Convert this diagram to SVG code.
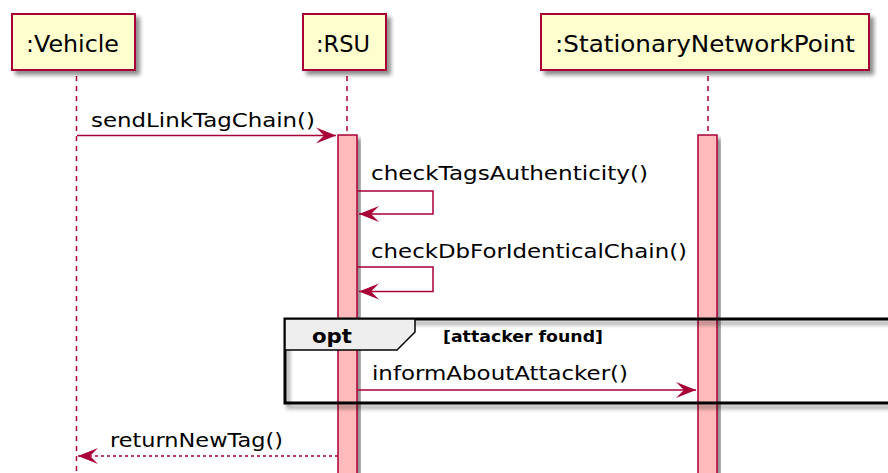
<svg xmlns="http://www.w3.org/2000/svg" width="888" height="473" viewBox="0 0 888 473">
<defs>
<filter id="sh" x="-10%" y="-10%" width="130%" height="140%">
<feGaussianBlur in="SourceAlpha" stdDeviation="2"/>
<feOffset dx="4" dy="4" result="b"/>
<feComponentTransfer><feFuncA type="linear" slope="0.45"/></feComponentTransfer>
<feMerge><feMergeNode/><feMergeNode in="SourceGraphic"/></feMerge>
</filter>
<filter id="shf" x="-5%" y="-10%" width="120%" height="130%">
<feGaussianBlur in="SourceAlpha" stdDeviation="2"/>
<feOffset dx="3" dy="4" result="b"/>
<feComponentTransfer><feFuncA type="linear" slope="0.45"/></feComponentTransfer>
<feMerge><feMergeNode/><feMergeNode in="SourceGraphic"/></feMerge>
</filter>
<marker id="ah" viewBox="-21 -9 22 18" refX="0" refY="0" markerWidth="22" markerHeight="18" markerUnits="userSpaceOnUse" orient="auto">
<path d="M0,0 L-20,-8 L-12,0 L-20,8 Z" fill="#A80036"/>
</marker>
</defs>
<style>
.box{fill:#FEFECE;stroke:#A80036;stroke-width:2}
.pt{font-family:"DejaVu Sans","Liberation Sans",sans-serif;font-size:23px;fill:#000}
.life{stroke:#A80036;stroke-width:1.5;stroke-dasharray:5,5;fill:none}
.act{fill:#FFBBBB;stroke:#A80036;stroke-width:1.5}
.msg{stroke:#A80036;stroke-width:1.5;fill:none}
.ret{stroke:#A80036;stroke-width:1.5;fill:none;stroke-dasharray:3,3}
.mt{font-family:"DejaVu Sans","Liberation Sans",sans-serif;font-size:20px;fill:#000}
.frame{fill:none;stroke:#000;stroke-width:3}
.tab{fill:#EEEEEE;stroke:#000;stroke-width:1.5}
.ft{font-family:"DejaVu Sans","Liberation Sans",sans-serif;font-weight:bold;fill:#000}
</style>
<g id="lifelines">
<line class="life" x1="76.5" y1="76" x2="76.5" y2="473"/>
<line class="life" x1="347" y1="76" x2="347" y2="473"/>
<line class="life" x1="708" y1="76" x2="708" y2="473"/>
</g>
<g id="vehicle">
<rect class="box" x="12" y="14" width="123" height="56" filter="url(#sh)"/>
<text class="pt" x="26" y="52" textLength="93" lengthAdjust="spacingAndGlyphs">:Vehicle</text>
</g>
<g id="rsu">
<rect class="box" x="303" y="14" width="83" height="56" filter="url(#sh)"/>
<text class="pt" x="316" y="52" textLength="54" lengthAdjust="spacingAndGlyphs">:RSU</text>
<rect class="act" x="338" y="135" width="19" height="345" filter="url(#sh)"/>
</g>
<g id="snp">
<rect class="box" x="541" y="14" width="328" height="56" filter="url(#sh)"/>
<text class="pt" x="555" y="52" textLength="300" lengthAdjust="spacingAndGlyphs">:StationaryNetworkPoint</text>
<rect class="act" x="698" y="135" width="19" height="345" filter="url(#sh)"/>
</g>
<g id="opt-frame">
<rect class="frame" x="285" y="319" width="620" height="84" filter="url(#shf)"/>
<path class="tab" d="M285,319 L415,319 L415,332 L397,350 L285,350 Z"/>
<text class="ft" x="312" y="343" font-size="19" textLength="40" lengthAdjust="spacingAndGlyphs">opt</text>
<text class="ft" x="443" y="342" font-size="15" textLength="160" lengthAdjust="spacingAndGlyphs">[attacker found]</text>
</g>
<g id="connectors">
<line class="msg" x1="77" y1="135.5" x2="336" y2="135.5" marker-end="url(#ah)"/>
<text class="mt" x="91" y="127" textLength="224" lengthAdjust="spacingAndGlyphs">sendLinkTagChain()</text>
<path class="msg" d="M357,191 L433,191 L433,214 L359,214" marker-end="url(#ah)"/>
<text class="mt" x="371" y="180" textLength="277" lengthAdjust="spacingAndGlyphs">checkTagsAuthenticity()</text>
<path class="msg" d="M357,267 L433,267 L433,291.5 L359,291.5" marker-end="url(#ah)"/>
<text class="mt" x="371" y="258" textLength="316" lengthAdjust="spacingAndGlyphs">checkDbForIdenticalChain()</text>
<line class="msg" x1="357" y1="390" x2="696" y2="390" marker-end="url(#ah)"/>
<text class="mt" x="372" y="380" textLength="256" lengthAdjust="spacingAndGlyphs">informAboutAttacker()</text>
<line class="ret" x1="338" y1="456" x2="78" y2="456" marker-end="url(#ah)"/>
<text class="mt" x="110" y="447" textLength="173" lengthAdjust="spacingAndGlyphs">returnNewTag()</text>
</g>
</svg>
